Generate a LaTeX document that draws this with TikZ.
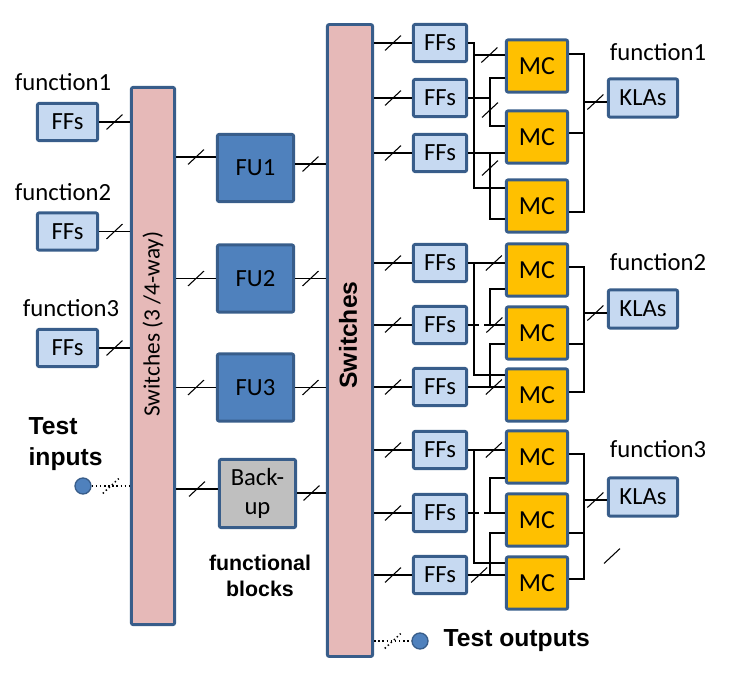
\documentclass[tikz,border=0pt]{standalone}
\usepackage{fontspec}
\setmainfont{Carlito}
\newfontfamily\arialfont{Liberation Sans}
\definecolor{barpink}{HTML}{E6B9B8}
\definecolor{edgeblue}{HTML}{385D8A}
\definecolor{ffblue}{HTML}{C6D9F1}
\definecolor{fublue}{HTML}{4F81BD}
\definecolor{mcgold}{HTML}{FFC000}
\definecolor{bkgray}{HTML}{BFBFBF}
\tikzset{
  box/.style={draw=edgeblue, line width=2.2pt, rounded corners=1.5pt, inner sep=0pt,
    font=\fontsize{18.5}{22}\selectfont},
  switchbar/.style={box, fill=barpink},
  ffbox/.style={box, fill=ffblue, minimum height=28pt},
  fubox/.style={box, fill=fublue, minimum width=57.25pt, minimum height=50.5pt},
  mcbox/.style={box, fill=mcgold, minimum width=46pt, minimum height=39.25pt,
    font=\fontsize{19.5}{22}\selectfont},
  funlabel/.style={font=\fontsize{18.5}{22}\selectfont, inner sep=0pt},
  boldlabel/.style={font=\arialfont\fontsize{18.5}{23}\selectfont\bfseries, inner sep=0pt, align=left},
  testdot/.style={circle, draw=edgeblue, line width=1pt, fill=fublue, minimum size=12pt, inner sep=0pt},
  wire/.style={line width=0.9pt},
  bus/.pic={\draw[solid, line width=0.8pt] (-6pt,-5.6pt) -- (6pt,5.6pt);},
  testbus/.pic={\draw[dotted, line width=1.1pt] (-6pt,-5.6pt) -- (6pt,5.6pt);}
}
\begin{document}
\begin{tikzpicture}[x=0.75pt, y=-0.75pt, wire]
\useasboundingbox (0,0) rectangle (738,677);

% switch bars
\node[switchbar, minimum width=32.5pt, minimum height=403pt] (sw1) at (153,356) {};
\node[font=\fontsize{17.5}{21}\selectfont, rotate=90] (sw1label) at (153,324) {Switches (3 /4-way)};
\node[switchbar, minimum width=34pt, minimum height=474pt] (sw2) at (350,340.5) {};
\node[font=\arialfont\fontsize{18.5}{22}\selectfont\bfseries, rotate=90] (sw2label) at (348,335) {Switches};

% inputs
\node[funlabel] (lfun1) at (63,82) {function1};
\node[ffbox, minimum width=45.25pt] (in1) at (67.5,122) {FFs};
\node[funlabel] (lfun2) at (63,192) {function2};
\node[ffbox, minimum width=45.25pt] (in2) at (67.5,231.5) {FFs};
\node[funlabel] (lfun3) at (71,308) {function3};
\node[ffbox, minimum width=45.25pt] (in3) at (67.5,348) {FFs};
\draw (in1.east) -- pic{bus} (sw1.west |- in1.east);
\draw (in2.east) -- pic{bus} (sw1.west |- in2.east);
\draw (in3.east) -- pic{bus} (sw1.west |- in3.east);

\node[boldlabel, anchor=west] (tinlabel) at (28,444) {Test\\inputs};
\node[testdot] (tin) at (83,486) {};
\draw[dotted, line width=1.1pt] (tin) -- pic{testbus} (sw1.west |- tin);

% functional blocks
\node[fubox] (fu1) at (255.5,168) {FU1};
\node[fubox] (fu2) at (255.5,278.5) {FU2};
\node[fubox] (fu3) at (255.5,387.5) {FU3};
\node[box, fill=bkgray, minimum width=57.25pt, minimum height=51.25pt, align=center,
  font=\fontsize{18.5}{22}\selectfont] (bkup) at (257.5,493.5) {Back-\\up};
\node[boldlabel, align=center, font=\arialfont\fontsize{16}{19.5}\selectfont\bfseries] (fblabel) at (260,576) {functional\\blocks};

\draw (sw1.east |- 0,157) -- pic{bus} (fu1.west |- 0,157);
\draw (sw1.east |- fu2) -- pic{bus} (fu2.west);
\draw (sw1.east |- fu3) -- pic{bus} (fu3.west);
\draw (sw1.east |- 0,489) -- pic{bus} (bkup.west |- 0,489);
\draw (fu1.east |- 0,164) -- pic{bus} (sw2.west |- 0,164);
\draw (fu2.east) -- pic{bus} (sw2.west |- fu2);
\draw (fu3.east) -- pic{bus} (sw2.west |- fu3);
\draw (bkup.east |- 0,493) -- pic{bus} (sw2.west |- 0,493);

% flip-flops and MCs
\foreach \i/\y in {1/43,2/98,3/153,4/263,5/325,6/387,7/450,8/513,9/575}
  \node[ffbox, minimum width=40pt] (ff\i) at (440,\y) {FFs};
\foreach \i/\y in {1/66,2/137,3/206,4/270,5/333,6/395,7/457,8/520,9/583}
  \node[mcbox] (mc\i) at (537,\y) {MC};
\foreach \i in {1,2,4,5,6,7,8,9}
  \draw (sw2.east |- ff\i) -- pic{bus} (ff\i.west);
\draw[line width=1.6pt] (sw2.east |- ff3) -- pic{bus} (ff3.west);

\node[funlabel] (rfun1) at (658,52) {function1};
\node[ffbox, minimum width=52pt, minimum height=28.75pt] (kla1) at (643,98) {KLAs};
\node[funlabel] (rfun2) at (658,262) {function2};
\node[ffbox, minimum width=52pt, minimum height=28.75pt] (kla2) at (643,309) {KLAs};
\node[funlabel] (rfun3) at (658,449) {function3};
\node[ffbox, minimum width=52pt, minimum height=28.75pt] (kla3) at (643,497) {KLAs};

% function1
\draw (ff1.east) -| (474,188) -- (mc3.west |- 0,188);
\draw (474,55) -- pic{bus} (mc1.west |- 0,55);
\draw (ff2.east) -- (490,98);
\draw (mc1.west |- 0,78) -| (490,126) -- (mc2.west |- 0,126);
\pic at (490,110) {bus};
\draw[line width=1.6pt] (ff3.east) -- (mc2.west |- ff3.east);
\draw (490,153) |- (mc3.west |- 0,219);
\pic at (490,168) {bus};
\draw (mc1.east |- 0,54) -| (584,212) -- (mc3.east |- 0,212);
\draw (mc2.east |- 0,133) -- (584,133);
\draw (584,102) -- pic{bus} (kla1.west |- 0,102);

% function2
\draw (ff4.east) -- pic[pos=.7]{bus} (mc4.west |- ff4.east);
\draw (474,263) |- (mc6.west |- 0,375);
\draw (ff5.east) -- (479,325);
\draw (484,325) -- pic{bus} (mc5.west |- ff5.east);
\draw (mc4.west |- 0,289) -| (490,325);
\draw (ff6.east) -- pic[pos=.7]{bus} (mc6.west |- ff6.east);
\draw (mc5.west |- 0,344) -| (490,387);
\draw (mc4.east |- 0,267) -| (584,392) -- (mc6.east |- 0,392);
\draw (mc5.east |- 0,344) -- (584,344);
\draw (584,313) -- pic{bus} (kla2.west |- 0,313);

% function3
\draw (ff7.east) -- pic[pos=.7]{bus} (mc7.west |- ff7.east);
\draw (474,450) |- (mc9.west |- 0,563);
\draw (ff8.east) -- (479,513);
\draw (484,513) -- (mc8.west |- ff8.east);
\draw (mc7.west |- 0,478) -| (490,513);
\draw (ff9.east) -- pic[pos=.3]{bus} (mc9.west |- ff9.east);
\draw (mc8.west |- 0,533) -| (490,575);
\draw (mc7.east |- 0,454) -| (584,579) -- (mc9.east |- 0,579);
\draw (mc8.east |- 0,533) -- (584,533);
\draw (584,500) -- pic{bus} (kla3.west |- 0,500);
\pic at (612,556) {bus};

% test outputs
\node[testdot] (tout) at (420,641) {};
\draw[dotted, line width=1.1pt] (sw2.east |- tout) -- pic{testbus} (tout);
\node[boldlabel, anchor=west] (toutlabel) at (443,641) {Test outputs};
\end{tikzpicture}
\end{document}
